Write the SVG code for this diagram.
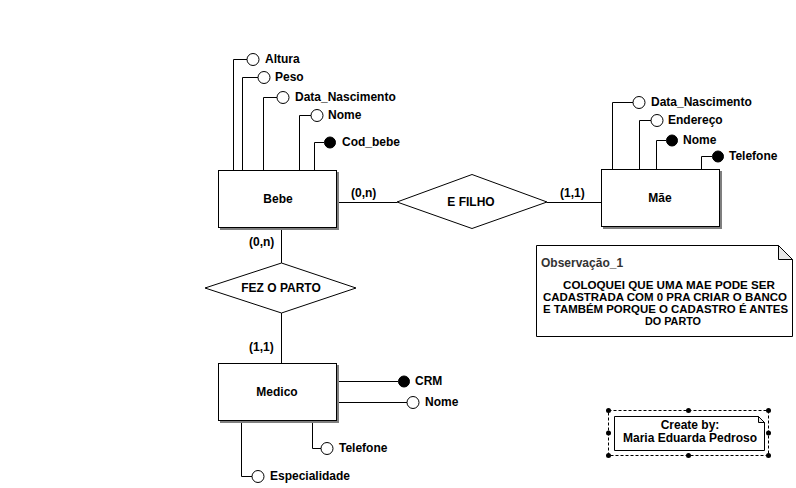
<svg xmlns="http://www.w3.org/2000/svg" width="796" height="488" viewBox="0 0 796 488">
  <style>
    text { font-family: "Liberation Sans", Arial, sans-serif; font-size: 12px; font-weight: bold; fill: #000; }
    .c { text-anchor: middle; }
    .body { font-size: 11.5px; }
    .ln { fill: none; stroke: #000; stroke-width: 1; }
    .ent { fill: #fff; stroke: #000; stroke-width: 1; }
    .shadow { fill: #7f7f7f; }
    .rel { fill: #fff; stroke: #000; stroke-width: 1; }
    .att { fill: #fff; stroke: #000; stroke-width: 1; }
    .key { fill: #000; stroke: #000; stroke-width: 1; }
    .note { fill: #fff; stroke: #000; stroke-width: 1; }
    .fold { fill: #e6e6e6; stroke: #000; stroke-width: 1; }
    .sel { fill: none; stroke: #000; stroke-width: 1; stroke-dasharray: 3 2; }
    .handle { fill: #000; }
  </style>
  <rect width="796" height="488" fill="#fff"/>

  <!-- connectors: relationships and attribute links -->
  <g id="connectors">
    <path class="ln" d="M337,202.5 H397 M547,202.5 H601"/>
    <path class="ln" d="M281.5,228 V263 M281.5,313 V363"/>
    <!-- Bebe attributes -->
    <path class="ln" d="M233.5,170 V59.5 H247"/>
    <path class="ln" d="M242.5,170 V77.5 H258"/>
    <path class="ln" d="M263.5,170 V97.5 H277"/>
    <path class="ln" d="M299.5,170 V115.5 H311"/>
    <path class="ln" d="M314.5,170 V142.5 H324"/>
    <!-- Mãe attributes -->
    <path class="ln" d="M612.5,169 V102.5 H633"/>
    <path class="ln" d="M639.5,169 V120.5 H651"/>
    <path class="ln" d="M656.5,169 V140.5 H666"/>
    <path class="ln" d="M701.5,169 V156.5 H712"/>
    <!-- Medico attributes -->
    <path class="ln" d="M337,381.5 H398"/>
    <path class="ln" d="M337,402.5 H407"/>
    <path class="ln" d="M312.5,420 V448.5 H321"/>
    <path class="ln" d="M241.5,420 V476.5 H252"/>
  </g>

  <!-- entities -->
  <g id="bebe">
    <rect class="shadow" x="220" y="172" width="119" height="58"/>
    <rect class="ent" x="218.5" y="170.5" width="118" height="57"/>
    <text class="c" x="278" y="203">Bebe</text>
  </g>
  <g id="mae">
    <rect class="shadow" x="603" y="171" width="119" height="58"/>
    <rect class="ent" x="601.5" y="169.5" width="118" height="57"/>
    <text class="c" x="660" y="202">Mãe</text>
  </g>
  <g id="medico">
    <rect class="shadow" x="220" y="365" width="119" height="58"/>
    <rect class="ent" x="218.5" y="363.5" width="118" height="57"/>
    <text class="c" x="277" y="396">Medico</text>
  </g>

  <!-- relationships -->
  <g id="e-filho">
    <polygon class="rel" points="397,202 472,174.5 547,202 472,228.5"/>
    <text class="c" x="471" y="206">E FILHO</text>
  </g>
  <g id="fez-o-parto">
    <polygon class="rel" points="205,288 281.5,263 356,288 281.5,313"/>
    <text class="c" x="281" y="292">FEZ O PARTO</text>
  </g>

  <!-- cardinalities -->
  <g id="cardinalities">
    <text x="351" y="197">(0,n)</text>
    <text x="560" y="197">(1,1)</text>
    <text x="249" y="246">(0,n)</text>
    <text x="249" y="351">(1,1)</text>
  </g>

  <!-- Bebe attributes -->
  <g id="bebe-altura"><circle class="att" cx="253" cy="59.5" r="6"/><text x="265" y="63">Altura</text></g>
  <g id="bebe-peso"><circle class="att" cx="264" cy="77.5" r="6"/><text x="275" y="81">Peso</text></g>
  <g id="bebe-data"><circle class="att" cx="283" cy="97.5" r="6"/><text x="295" y="101">Data_Nascimento</text></g>
  <g id="bebe-nome"><circle class="att" cx="317" cy="115.5" r="6"/><text x="328" y="119">Nome</text></g>
  <g id="bebe-cod"><circle class="key" cx="330" cy="142.5" r="5.5"/><text x="342" y="146">Cod_bebe</text></g>

  <!-- Mãe attributes -->
  <g id="mae-data"><circle class="att" cx="639" cy="102.5" r="6"/><text x="651" y="106">Data_Nascimento</text></g>
  <g id="mae-endereco"><circle class="att" cx="657" cy="120.5" r="6"/><text x="668" y="124">Endereço</text></g>
  <g id="mae-nome"><circle class="key" cx="672" cy="140.5" r="5.5"/><text x="683" y="144">Nome</text></g>
  <g id="mae-telefone"><circle class="key" cx="718" cy="156.5" r="5.5"/><text x="729" y="160">Telefone</text></g>

  <!-- Medico attributes -->
  <g id="medico-crm"><circle class="key" cx="404" cy="381.5" r="5.5"/><text x="415" y="385">CRM</text></g>
  <g id="medico-nome"><circle class="att" cx="413" cy="402.5" r="6"/><text x="425" y="406">Nome</text></g>
  <g id="medico-telefone"><circle class="att" cx="327" cy="448.5" r="6"/><text x="339" y="452">Telefone</text></g>
  <g id="medico-especialidade"><circle class="att" cx="258" cy="476.5" r="6"/><text x="270" y="480">Especialidade</text></g>

  <!-- note -->
  <g id="observacao">
    <path class="note" d="M536.5,245.5 H778.5 L792.5,259.5 V336.5 H536.5 Z"/>
    <path class="fold" d="M778.5,245.5 V259.5 H792.5 Z"/>
    <text x="541" y="267" style="fill:#333">Observação_1</text>
    <text class="body" x="563" y="289" textLength="212" lengthAdjust="spacingAndGlyphs">COLOQUEI QUE UMA MAE PODE SER</text>
    <text class="body" x="543" y="301" textLength="244" lengthAdjust="spacingAndGlyphs">CADASTRADA COM 0 PRA CRIAR O BANCO</text>
    <text class="body" x="543" y="313" textLength="245" lengthAdjust="spacingAndGlyphs">E TAMBÉM PORQUE O CADASTRO É ANTES</text>
    <text class="body" x="645" y="325" textLength="56" lengthAdjust="spacingAndGlyphs">DO PARTO</text>
  </g>

  <!-- author note (selected) -->
  <g id="autor">
    <rect class="sel" x="608.5" y="410.5" width="160" height="45"/>
    <path class="note" d="M614.5,416.5 H758.5 L764.5,422.5 V450.5 H614.5 Z"/>
    <path class="fold" d="M758.5,416.5 V422.5 H764.5 Z"/>
    <text class="c" x="690" y="429">Create by:</text>
    <text class="c" x="690" y="442">Maria Eduarda Pedroso</text>
    <circle class="handle" cx="608.5" cy="410.5" r="2.5"/>
    <circle class="handle" cx="688.5" cy="410.5" r="2.5"/>
    <circle class="handle" cx="768.5" cy="410.5" r="2.5"/>
    <circle class="handle" cx="608.5" cy="433" r="2.5"/>
    <circle class="handle" cx="768.5" cy="433" r="2.5"/>
    <circle class="handle" cx="608.5" cy="455.5" r="2.5"/>
    <circle class="handle" cx="688.5" cy="455.5" r="2.5"/>
    <circle class="handle" cx="768.5" cy="455.5" r="2.5"/>
  </g>
</svg>
